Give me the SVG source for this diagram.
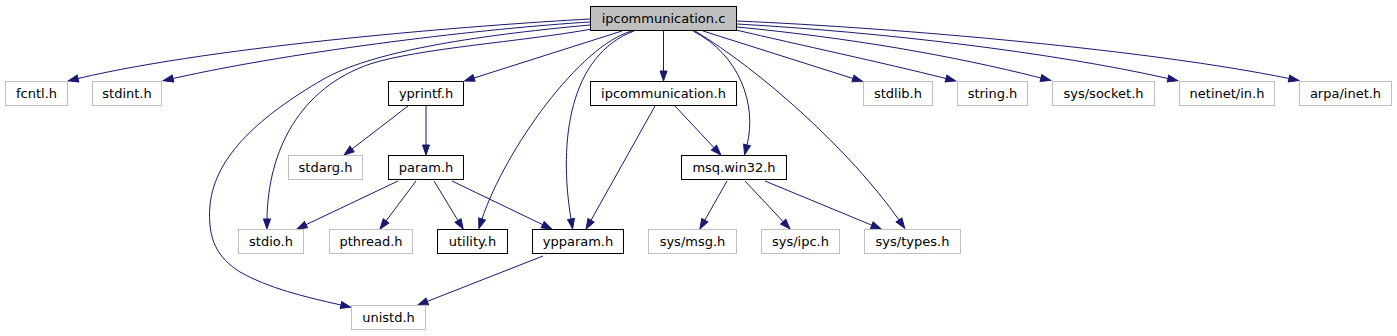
<svg xmlns="http://www.w3.org/2000/svg" width="1397" height="336" viewBox="0 0 1397 336">
<style>
.n rect{fill:#fff;stroke:#000;stroke-width:1}
.n.ext rect{stroke:#bfbfbf}
.n.top rect{fill:#bfbfbf}
.n text{font-family:"DejaVu Sans",sans-serif;font-size:13px;fill:#000;text-anchor:middle}
#edges path{fill:none;stroke:#191970;stroke-width:1;marker-end:url(#arr)}
</style>
<defs>
<marker id="arr" markerUnits="userSpaceOnUse" markerWidth="11" markerHeight="8" refX="0" refY="3.5" orient="auto" overflow="visible">
<path d="M0,0 L10,3.5 L0,7 Z" fill="#191970" stroke="#191970" stroke-width="1"/>
</marker>
</defs>
<rect width="1397" height="336" fill="#fff"/>
<g id="edges">
<path d="M590,19 C480,25 220,45 78,78.5"/>
<path d="M590,22 C490,28 300,50 173,78.5"/>
<path d="M590,25 C470,36 370,52 322,80 C262,115 215,155 210,205 C207,240 218,258 240,272 C268,288 305,297 341,305"/>
<path d="M592,29 C520,42 420,48 370,64 C300,88 268,150 267,219"/>
<path d="M622,31 L474,78"/>
<path d="M632,31 C580,45 505,150 482,219"/>
<path d="M634,31 C570,55 558,140 571,219"/>
<path d="M663.5,31 L663.5,71"/>
<path d="M693,31 C740,55 757,105 747,145"/>
<path d="M695,31 C760,70 850,150 899,220"/>
<path d="M703,31 L853,78.5"/>
<path d="M736,30 C800,45 880,62 946,78.5"/>
<path d="M737,27 C850,38 950,55 1041,78"/>
<path d="M737,24 C880,32 1050,52 1168,78.5"/>
<path d="M737,21 C900,28 1150,50 1289,78.5"/>
<path d="M408,106 L352,149"/>
<path d="M426,106 L426,145"/>
<path d="M398,181 L306,224.7"/>
<path d="M416,181 L386,221"/>
<path d="M434,181 L458,220.5"/>
<path d="M452,181 L542.7,224.7"/>
<path d="M655,106 L591,220.3"/>
<path d="M675,106 L714,147.7"/>
<path d="M727,181 L704.8,220.2"/>
<path d="M745,181 L783.2,221.7"/>
<path d="M765,181 L871.8,225.2"/>
<path d="M543,256 L427.3,301.4"/>
</g>
<g id="n_ipcommunication_c" class="n top"><rect x="590.5" y="6.5" width="146" height="24"/><text x="663.5" y="23">ipcommunication.c</text></g>
<g id="n_fcntl_h" class="n ext"><rect x="5.5" y="81.5" width="62" height="24"/><text x="36.5" y="98">fcntl.h</text></g>
<g id="n_stdint_h" class="n ext"><rect x="92.5" y="81.5" width="69" height="24"/><text x="127" y="98">stdint.h</text></g>
<g id="n_yprintf_h" class="n"><rect x="388.5" y="81.5" width="75" height="24"/><text x="426" y="98">yprintf.h</text></g>
<g id="n_ipcommunication_h" class="n"><rect x="590.5" y="81.5" width="146" height="24"/><text x="663.5" y="98">ipcommunication.h</text></g>
<g id="n_stdlib_h" class="n ext"><rect x="863.5" y="81.5" width="69" height="24"/><text x="898" y="98">stdlib.h</text></g>
<g id="n_string_h" class="n ext"><rect x="957.5" y="81.5" width="70" height="24"/><text x="992.5" y="98">string.h</text></g>
<g id="n_sys_socket_h" class="n ext"><rect x="1052.5" y="81.5" width="102" height="24"/><text x="1103.5" y="98">sys/socket.h</text></g>
<g id="n_netinet_in_h" class="n ext"><rect x="1179.5" y="81.5" width="95" height="24"/><text x="1227" y="98">netinet/in.h</text></g>
<g id="n_arpa_inet_h" class="n ext"><rect x="1299.5" y="81.5" width="92" height="24"/><text x="1345.5" y="98">arpa/inet.h</text></g>
<g id="n_stdarg_h" class="n ext"><rect x="288.5" y="155.5" width="74" height="24"/><text x="325.5" y="172">stdarg.h</text></g>
<g id="n_param_h" class="n"><rect x="388.5" y="155.5" width="75" height="24"/><text x="426" y="172">param.h</text></g>
<g id="n_msq_win32_h" class="n"><rect x="681.5" y="155.5" width="105" height="24"/><text x="734" y="172">msq.win32.h</text></g>
<g id="n_stdio_h" class="n ext"><rect x="238.5" y="229.5" width="65" height="24"/><text x="271" y="246">stdio.h</text></g>
<g id="n_pthread_h" class="n ext"><rect x="329.5" y="229.5" width="83" height="24"/><text x="371" y="246">pthread.h</text></g>
<g id="n_utility_h" class="n"><rect x="437.5" y="229.5" width="70" height="24"/><text x="472.5" y="246">utility.h</text></g>
<g id="n_ypparam_h" class="n"><rect x="532.5" y="229.5" width="91" height="24"/><text x="578" y="246">ypparam.h</text></g>
<g id="n_sys_msg_h" class="n ext"><rect x="648.5" y="229.5" width="88" height="24"/><text x="692.5" y="246">sys/msg.h</text></g>
<g id="n_sys_ipc_h" class="n ext"><rect x="761.5" y="229.5" width="78" height="24"/><text x="800.5" y="246">sys/ipc.h</text></g>
<g id="n_sys_types_h" class="n ext"><rect x="864.5" y="229.5" width="96" height="24"/><text x="912.5" y="246">sys/types.h</text></g>
<g id="n_unistd_h" class="n ext"><rect x="351.5" y="305.5" width="74" height="24"/><text x="388.5" y="322">unistd.h</text></g>
</svg>
